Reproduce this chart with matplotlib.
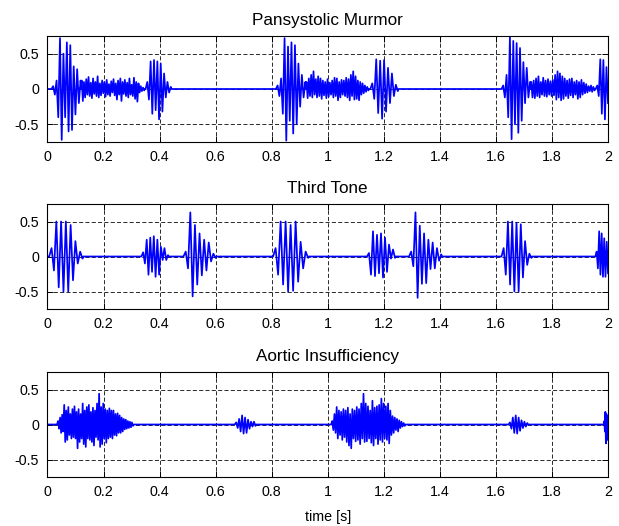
import matplotlib
matplotlib.use('Agg')
import matplotlib.pyplot as plt
from matplotlib.ticker import FormatStrFormatter
import numpy as np

# --- Pansystolic Murmor: (window in s, extrema values) ---
pmS1a = [0.04, -0.08, 0.12, -0.4, 0.72, -0.72, 0.5, -0.4, 0.66, -0.6, 0.62, -0.58, 0.32, -0.36, 0.28, -0.2, 0.12]
pmMurA = [0.12, -0.17, 0.1, -0.12, 0.14, -0.08, 0.17, -0.1, 0.09, -0.13, 0.15, -0.07, 0.1, -0.1,
          0.18, -0.12, 0.08, -0.09, 0.12, -0.06, 0.1, -0.11, 0.13, -0.08, 0.07, -0.1, 0.11, -0.05,
          0.14, -0.09, 0.08, -0.15, 0.12, -0.08, 0.15, -0.17, 0.1, -0.07, 0.13, -0.1, 0.09, -0.12,
          0.15, -0.08, 0.06, -0.1, 0.16, -0.14, 0.1, -0.18, 0.08, -0.05, 0.04, -0.03, 0.02, -0.02]
pmS2a = [0.1, -0.15, 0.39, -0.35, 0.41, -0.3, 0.39, -0.43, 0.36, -0.32, 0.22, -0.12, 0.1, -0.05, 0.03]
pmS1b = [0.05, -0.1, 0.15, -0.35, 0.72, -0.73, 0.6, -0.45, 0.66, -0.63, 0.62, -0.5, 0.36, -0.25, 0.2, -0.12, 0.1]
pmMurB = [0.1, -0.13, 0.15, -0.1, 0.2, -0.12, 0.25, -0.08, 0.14, -0.12, 0.18, -0.1, 0.15, -0.14,
          0.12, -0.09, 0.1, -0.13, 0.14, -0.11, 0.09, -0.08, 0.12, -0.12, 0.16, -0.1, 0.15, -0.16,
          0.1, -0.12, 0.13, -0.08, 0.12, -0.1, 0.16, -0.12, 0.14, -0.16, 0.2, -0.1, 0.25, -0.15,
          0.18, -0.14, 0.12, -0.16, 0.1, -0.08, 0.08, -0.06, 0.05, -0.04, 0.03, -0.02]
pmS2b = [0.08, -0.14, 0.42, -0.34, 0.4, -0.42, 0.41, -0.32, 0.3, -0.2, 0.22, -0.1, 0.06, -0.03]
pmS1c = [0.05, -0.12, 0.2, -0.4, 0.73, -0.71, 0.68, -0.5, 0.65, -0.62, 0.58, -0.45, 0.38, -0.2, 0.3, -0.12, 0.1]
pmMurC = [0.1, -0.12, 0.12, -0.13, 0.15, -0.1, 0.18, -0.12, 0.1, -0.08, 0.16, -0.1, 0.12, -0.11,
          0.14, -0.08, 0.11, -0.1, 0.13, -0.09, 0.2, -0.15, 0.25, -0.12, 0.22, -0.16, 0.18, -0.14,
          0.15, -0.1, 0.12, -0.13, 0.14, -0.09, 0.15, -0.12, 0.1, -0.08, 0.12, -0.14, 0.1, -0.12,
          0.13, -0.08, 0.09, -0.06, 0.07, -0.05, 0.04, -0.03, 0.05, -0.04, 0.03, -0.02]
pmS2c = [0.05, -0.1, 0.42, -0.35, 0.41, -0.43, 0.31, -0.2]
pmBursts = [((0.014, 0.118), pmS1a), ((0.118, 0.345), pmMurA), ((0.35, 0.44), pmS2a),
            ((0.815, 0.92), pmS1b), ((0.92, 1.145), pmMurB), ((1.152, 1.25), pmS2b),
            ((1.62, 1.722), pmS1c), ((1.722, 1.952), pmMurC), ((1.956, 2.0), pmS2c)]

# --- Third Tone ---
ttS1a = [0.12, -0.2, 0.5, -0.44, 0.5, -0.5, 0.5, -0.5, 0.45, -0.34, 0.22, -0.1, 0.07, -0.03]
ttS2a = [0.06, -0.1, 0.24, -0.26, 0.27, -0.22, 0.29, -0.29, 0.24, -0.26, 0.14, -0.05, 0.12, -0.05, 0.02]
ttS3a = [0.07, -0.17, 0.63, -0.57, 0.45, -0.4, 0.33, -0.27, 0.24, -0.2, 0.2, -0.07, 0.04, -0.02]
ttS1b = [0.12, -0.26, 0.5, -0.4, 0.5, -0.5, 0.45, -0.49, 0.5, -0.36, 0.21, -0.17, 0.07, -0.02]
ttS2b = [0.05, -0.26, 0.36, -0.28, 0.31, -0.24, 0.33, -0.3, 0.27, -0.22, 0.17, -0.03, 0.1, -0.02]
ttS3b = [0.07, -0.14, 0.63, -0.59, 0.44, -0.39, 0.33, -0.38, 0.24, -0.18, 0.2, -0.17, 0.12, -0.06, 0.03]
ttS1c = [0.12, -0.26, 0.5, -0.4, 0.5, -0.5, 0.48, -0.5, 0.46, -0.3, 0.22, -0.12, 0.04, -0.02]
ttS2c = [0.07, -0.17, 0.36, -0.26, 0.33, -0.29, 0.26, -0.29, 0.21, -0.24]
ttBursts = [((0.006, 0.125), ttS1a), ((0.335, 0.43), ttS2a), ((0.485, 0.6), ttS3a),
            ((0.805, 0.93), ttS1b), ((1.14, 1.24), ttS2b), ((1.29, 1.405), ttS3b),
            ((1.62, 1.727), ttS1c), ((1.955, 2.0), ttS2c)]

# --- Aortic Insufficiency ---
aiMurA = [0.05, -0.06, 0.1, -0.12, 0.14, -0.1,
          0.28, -0.25, 0.2, -0.22, 0.25, -0.15, 0.15, -0.2, 0.22, -0.18,
          0.26, -0.2, 0.18, -0.34, 0.22, -0.25, 0.15, -0.2, 0.3, -0.28, 0.2, -0.32, 0.25, -0.2, 0.28, -0.22,
          0.18, -0.25, 0.24, -0.3, 0.2, -0.18, 0.3, -0.22, 0.44, -0.32, 0.25, -0.28, 0.3, -0.2,
          0.22, -0.26, 0.2, -0.2, 0.23, -0.18, 0.2, -0.2,
          0.2, -0.15, 0.15, -0.16, 0.16, -0.12, 0.13, -0.12,
          0.1, -0.1, 0.08, -0.07, 0.07, -0.06, 0.05, -0.05, 0.04, -0.04, 0.03, -0.02]
aiS2a = [0.03, -0.05, 0.08, -0.1, 0.13, -0.13, 0.1, -0.12, 0.07, -0.06, 0.04, -0.03, 0.04, -0.02]
aiMurB = [0.05, -0.08, 0.15, -0.12,
          0.25, -0.2, 0.2, -0.15, 0.18, -0.22, 0.22, -0.18,
          0.2, -0.25, 0.24, -0.3, 0.15, -0.34, 0.22, -0.2, 0.2, -0.24,
          0.25, -0.22, 0.22, -0.28, 0.3, -0.2, 0.44, -0.25, 0.3, -0.24,
          0.26, -0.2, 0.2, -0.26, 0.34, -0.3, 0.24, -0.2, 0.26, -0.28,
          0.28, -0.22, 0.37, -0.25, 0.3, -0.2, 0.26, -0.22, 0.3, -0.27,
          0.2, -0.15, 0.12, -0.12, 0.1, -0.08, 0.08, -0.1, 0.06, -0.05, 0.04, -0.03, 0.02, -0.02]
aiS2b = [0.03, -0.06, 0.1, -0.12, 0.13, -0.13, 0.1, -0.09, 0.06, -0.05, 0.04, -0.03, 0.02]
aiMurC = [0.05, -0.1, 0.18, -0.27, 0.15, -0.2, 0.12, -0.22]
aiBursts = [((0.034, 0.305), aiMurA), ((0.668, 0.742), aiS2a), ((1.012, 1.275), aiMurB),
            ((1.645, 1.712), aiS2b), ((1.985, 2.0), aiMurC)]

titles = ['Pansystolic Murmor', 'Third Tone', 'Aortic Insufficiency']
xTicks = [0, 0.2, 0.4, 0.6, 0.8, 1, 1.2, 1.4, 1.6, 1.8, 2]
yTicks = [-0.5, 0, 0.5]
tEnd = 2.0


def buildTrace(bursts):
    # flat baseline between bursts, extrema spread evenly over each burst window
    t = [0.0]
    y = [0.0]
    for (t0, t1), vals in bursts:
        t.append(t0)
        y.append(0.0)
        t.extend(np.linspace(t0, t1, len(vals) + 1)[1:])
        y.extend(vals)
        if t1 < tEnd:
            t.append(t1 + 0.003)
            y.append(0.0)
    if t[-1] < tEnd:
        t.append(tEnd)
        y.append(0.0)
    return np.array(t), np.array(y)


plt.rcParams['font.family'] = ['Liberation Sans', 'DejaVu Sans']
plt.rcParams['font.size'] = 10.3
plt.rcParams['axes.unicode_minus'] = False

fig = plt.figure(figsize=(6.19, 5.26), dpi=100)
left = 47.5 / 619
width = (608 - 47.5) / 619
tops = [36, 204, 372]
bottoms = [142, 309, 477]

for i, bursts in enumerate([pmBursts, ttBursts, aiBursts]):
    ax = fig.add_axes([left, 1 - bottoms[i] / 526, width, (bottoms[i] - tops[i]) / 526])
    t, y = buildTrace(bursts)
    ax.plot(t, y, color='#0000ff', linewidth=1.25)
    ax.set_xlim(0, 2)
    ax.set_ylim(-0.75, 0.75)
    ax.set_xticks(xTicks)
    ax.set_yticks(yTicks)
    ax.xaxis.set_major_formatter(FormatStrFormatter('%g'))
    ax.yaxis.set_major_formatter(FormatStrFormatter('%g'))
    ax.tick_params(direction='in', length=4, width=0.7, top=True, right=True, pad=6, colors='k')
    ax.grid(True, color='0.1', linestyle=(0, (4.5, 2.5)), linewidth=0.65)
    for sp in ax.spines.values():
        sp.set_linewidth(0.8)
    ax.set_title(titles[i], pad=8)

ax.set_xlabel('time [s]', labelpad=8)

plt.savefig('out.png', dpi=100)
